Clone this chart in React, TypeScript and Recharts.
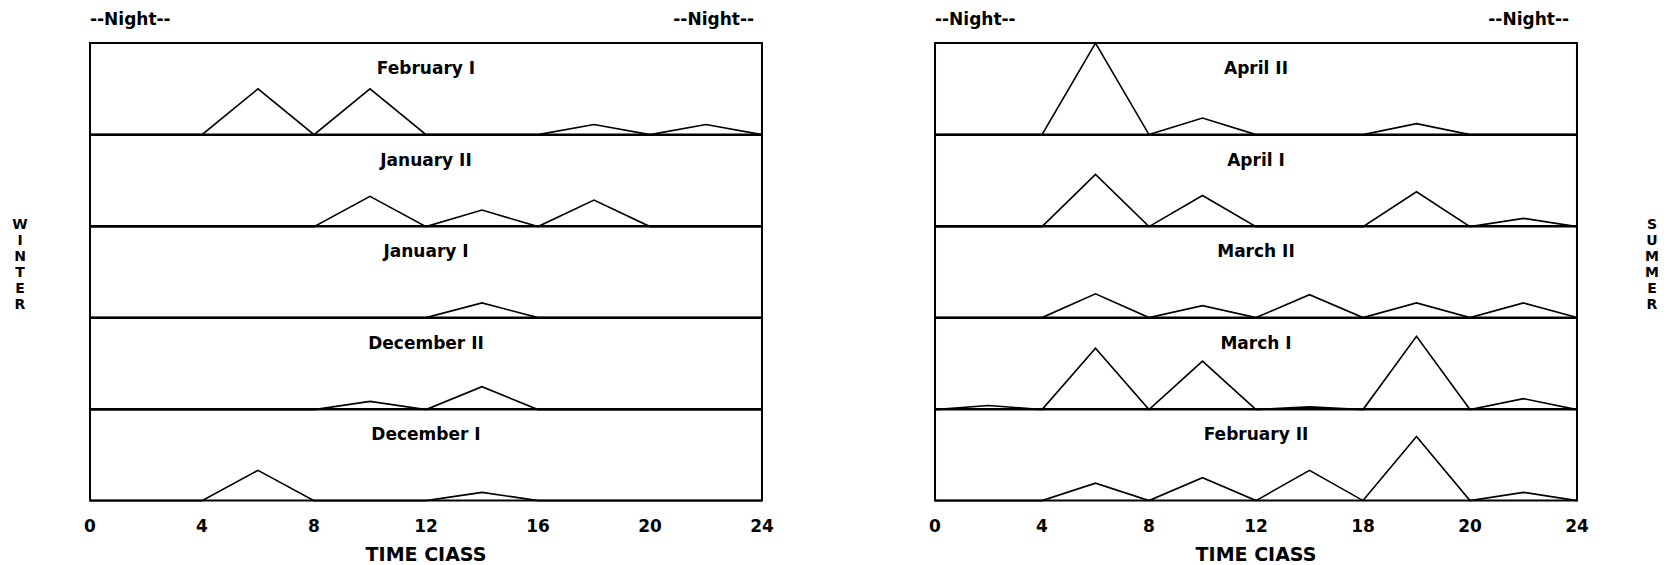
import React from "react";
import { LineChart, Line, XAxis, YAxis, ReferenceArea } from "recharts";

// hour classes sampled every 2 hours
const hours = [0, 2, 4, 6, 8, 10, 12, 14, 16, 18, 20, 22, 24];

// winter panel, top to bottom
const februaryI = [0, 0, 0, 5, 0, 5, 0, 0, 0, 1.1, 0, 1.1, 0];
const januaryII = [0, 0, 0, 0, 0, 3.3, 0, 1.8, 0, 2.9, 0, 0, 0];
const januaryI = [0, 0, 0, 0, 0, 0, 0, 1.6, 0, 0, 0, 0, 0];
const decemberII = [0, 0, 0, 0, 0, 0.9, 0, 2.5, 0, 0, 0, 0, 0];
const decemberI = [0, 0, 0, 3.3, 0, 0, 0, 0.9, 0, 0, 0, 0, 0];

// summer panel, top to bottom
const aprilII = [0, 0, 0, 10, 0, 1.8, 0, 0, 0, 1.2, 0, 0, 0];
const aprilI = [0, 0, 0, 5.7, 0, 3.4, 0, 0, 0, 3.8, 0, 0.9, 0];
const marchII = [0, 0, 0, 2.6, 0, 1.3, 0, 2.5, 0, 1.6, 0, 1.6, 0];
const marchI = [0, 0.45, 0, 6.7, 0, 5.3, 0, 0.3, 0, 8, 0, 1.2, 0];
const februaryII = [0, 0, 0, 1.9, 0, 2.5, 0, 3.3, 0, 7, 0, 0.9, 0];

const winterTitles = ["February I", "January II", "January I", "December II", "December I"];
const summerTitles = ["April II", "April I", "March II", "March I", "February II"];

const tickValues = [0, 4, 8, 12, 16, 20, 24];
const winterTickLabels = ["0", "4", "8", "12", "16", "20", "24"];
const summerTickLabels = ["0", "4", "8", "12", "18", "20", "24"];

const FONT = "'DejaVu Sans', sans-serif";
const TOP = 43;
const BOTTOM = 501;
const ROW_H = (BOTTOM - TOP) / 5;
const PAD = 2;
const SIDE = 24;
const AXIS_H = 36;

const toRows = (values: number[]) => hours.map((h, i) => ({ h, v: values[i] }));

interface PanelProps {
  left: number;
  width: number;
  series: number[][];
  titles: string[];
  tickLabels: string[];
}

const Panel: React.FC<PanelProps> = ({ left, width, series, titles, tickLabels }) => (
  <>
    {series.map((values, i) => {
      const last = i === series.length - 1;
      const top = TOP + i * ROW_H;
      return (
        <div key={titles[i]}>
          <div style={{ position: "absolute", left: left - SIDE, top: top - PAD }}>
            <LineChart
              width={width + 2 * SIDE}
              height={ROW_H + 2 * PAD + (last ? AXIS_H : 0)}
              data={toRows(values)}
              margin={{ top: PAD, right: SIDE, bottom: PAD, left: SIDE }}
            >
              <XAxis
                dataKey="h"
                type="number"
                domain={[0, 24]}
                ticks={tickValues}
                hide={!last}
                height={AXIS_H}
                axisLine={false}
                tickLine={false}
                tickSize={0}
                tickMargin={19}
                interval={0}
                tickFormatter={(v: number) => tickLabels[tickValues.indexOf(v)]}
                tick={{ fill: "#000", fontSize: 17, fontWeight: 700, fontFamily: FONT }}
              />
              <YAxis type="number" domain={[0, 10]} hide />
              <ReferenceArea
                x1={0}
                x2={24}
                y1={0}
                y2={10}
                fill="none"
                stroke="#000"
                strokeWidth={2}
                fillOpacity={0}
              />
              <Line
                type="linear"
                dataKey="v"
                stroke="#000"
                strokeWidth={1.6}
                dot={false}
                isAnimationActive={false}
              />
            </LineChart>
          </div>
          <div
            style={{
              position: "absolute",
              left,
              width,
              top: top + 15,
              textAlign: "center",
              fontFamily: FONT,
              fontWeight: 700,
              fontSize: 17,
              lineHeight: "20px",
            }}
          >
            {titles[i]}
          </div>
        </div>
      );
    })}
    <div style={{ position: "absolute", left, top: 8, fontFamily: FONT, fontWeight: 700, fontSize: 17, lineHeight: "22px" }}>
      --Night--
    </div>
    <div
      style={{
        position: "absolute",
        left,
        width: width - 8,
        top: 8,
        textAlign: "right",
        fontFamily: FONT,
        fontWeight: 700,
        fontSize: 17,
        lineHeight: "22px",
      }}
    >
      --Night--
    </div>
    <div
      style={{
        position: "absolute",
        left,
        width,
        top: 542,
        textAlign: "center",
        fontFamily: FONT,
        fontWeight: 700,
        fontSize: 19,
        lineHeight: "24px",
      }}
    >
      TIME CIASS
    </div>
  </>
);

const VerticalWord: React.FC<{ word: string; center: number }> = ({ word, center }) => (
  <div
    style={{
      position: "absolute",
      left: center - 10,
      width: 20,
      top: 216,
      textAlign: "center",
      fontFamily: FONT,
      fontWeight: 700,
      fontSize: 14,
      lineHeight: "16px",
    }}
  >
    {word.split("").map((ch, i) => (
      <div key={i}>{ch}</div>
    ))}
  </div>
);

export default function App() {
  return (
    <div
      style={{
        position: "absolute",
        left: 0,
        top: 0,
        width: 1677,
        height: 565,
        background: "#fff",
        color: "#000",
        overflow: "hidden",
      }}
    >
      <Panel
        left={90}
        width={672}
        series={[februaryI, januaryII, januaryI, decemberII, decemberI]}
        titles={winterTitles}
        tickLabels={winterTickLabels}
      />
      <Panel
        left={935}
        width={642}
        series={[aprilII, aprilI, marchII, marchI, februaryII]}
        titles={summerTitles}
        tickLabels={summerTickLabels}
      />
      <VerticalWord word="WINTER" center={20} />
      <VerticalWord word="SUMMER" center={1652} />
    </div>
  );
}
